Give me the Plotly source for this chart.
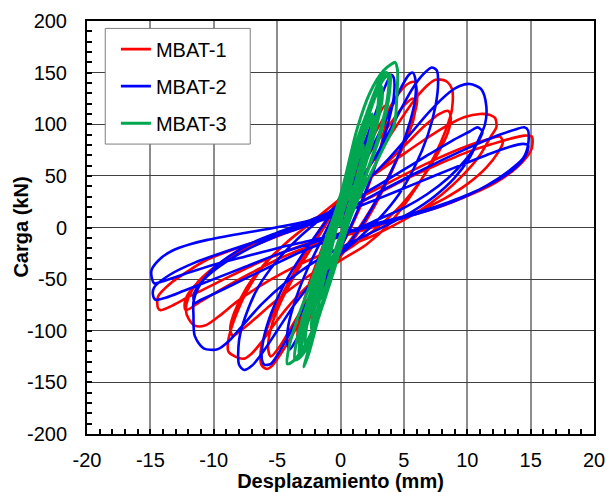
import plotly.graph_objects as go

# MBAT-1 (red): (displacement mm, load kN) traced cycle by cycle
MBAT1 = [
    (0, 0),
    (0.5, 25), (1.2, 52), (1.8, 73), (2.0, 80), (2.0, 70), (1.6, 48), (1.0, 22), (0.4, 0), (-0.3, -22), (-1.0, -46),
    (-1.7, -68), (-2.0, -75), (-2.0, -64), (-1.6, -42), (-1.0, -18), (-0.4, 5),
    (0.2, 25), (1.0, 50), (2.0, 80), (2.9, 106), (3.5, 118), (3.6, 110), (3.4, 90), (2.8, 62), (1.9, 30), (0.9, 2),
    (0.0, -20), (-0.9, -42), (-1.9, -72), (-2.8, -98), (-3.3, -112), (-3.4, -104), (-3.1, -82), (-2.5, -55), (-1.6, -25), (-0.7, 5),
    (0.0, 28), (1.0, 52), (2.2, 80), (3.5, 108), (4.6, 130), (5.3, 139), (5.8, 141), (6.0, 135), (6.0, 118), (5.5, 98),
    (4.6, 70), (3.5, 40), (2.2, 10), (1.0, -12), (0.0, -28), (-1.2, -48), (-2.5, -75), (-3.7, -102), (-4.8, -124), (-5.4, -134),
    (-5.8, -137), (-6.2, -134), (-6.3, -120), (-5.8, -98), (-4.8, -70), (-3.6, -42), (-2.3, -15), (-1.0, 10),
    (0.0, 30), (1.3, 52), (2.6, 78), (3.9, 100), (5.0, 118), (5.7, 125), (5.9, 119), (5.7, 102), (5.0, 80), (3.9, 52),
    (2.6, 22), (1.2, -5), (0.0, -25), (-1.3, -45), (-2.6, -70), (-3.9, -97), (-4.9, -117), (-5.5, -125), (-5.7, -118), (-5.5, -98),
    (-4.7, -72), (-3.5, -44), (-2.2, -18), (-0.8, 10),
    (0.3, 30), (1.6, 48), (3.0, 72), (4.5, 100), (5.8, 123), (6.8, 137), (7.5, 143), (8.3, 142), (8.8, 134), (8.8, 115),
    (8.6, 105), (7.9, 82), (6.8, 55), (5.4, 28), (3.8, 3), (2.0, -17), (0.0, -32), (-1.8, -48), (-3.5, -68), (-5.0, -90),
    (-6.3, -112), (-7.0, -122), (-7.6, -127), (-8.3, -125), (-8.85, -120), (-8.85, -109), (-8.4, -90), (-7.4, -62), (-6.0, -36),
    (-4.3, -15), (-2.4, 4), (-0.8, 20),
    (0.5, 32), (2.0, 45), (3.6, 62), (5.2, 81), (6.6, 98), (7.8, 110), (8.5, 113), (8.7, 106), (8.5, 93), (7.6, 70),
    (6.3, 45), (4.8, 22), (3.0, 1), (1.2, -16), (-0.5, -30), (-2.3, -45), (-4.0, -60), (-5.6, -76), (-7.0, -91), (-8.0, -101),
    (-8.5, -105), (-8.7, -98), (-8.4, -83), (-7.4, -58), (-5.9, -34), (-4.2, -14), (-2.4, 4), (-0.8, 20),
    (0.5, 33), (2.5, 50), (4.5, 67), (6.5, 84), (8.3, 98), (9.8, 107), (11.0, 110), (11.8, 109), (12.2, 106), (12.3, 97),
    (11.9, 89), (11.0, 70), (9.6, 50), (8.0, 32), (6.2, 16), (4.2, 2), (2.2, -10), (0.0, -20), (-2.2, -30), (-4.4, -43),
    (-6.4, -57), (-8.2, -72), (-9.6, -86), (-10.7, -95), (-11.5, -95), (-12.0, -88), (-12.2, -80), (-12.0, -68), (-11.2, -52),
    (-9.8, -37), (-8.0, -23), (-6.0, -12), (-4.0, -2), (-2.0, 9),
    (0.0, 20), (2.5, 35), (5.0, 51), (7.5, 66), (9.8, 78), (11.5, 85), (12.6, 88), (12.8, 82), (12.45, 73), (11.5, 58),
    (10.0, 42), (8.2, 28), (6.2, 16), (4.0, 6), (2.0, -2), (0.0, -9), (-2.4, -18), (-4.8, -30), (-7.2, -45), (-9.4, -60),
    (-11.2, -73), (-12.2, -80), (-12.3, -74), (-12.1, -66), (-11.0, -50), (-9.5, -35), (-7.5, -21), (-5.3, -10), (-3.0, 1), (-1.0, 11),
    (0.5, 18), (2.5, 30), (5.0, 46), (7.5, 60), (10.0, 73), (12.0, 81), (13.4, 86), (14.5, 89), (15.1, 88), (15.1, 77),
    (14.8, 70), (13.8, 57), (12.3, 44), (10.5, 33), (8.5, 23), (6.5, 15), (4.5, 8), (2.5, 2), (0.5, -4), (-2.0, -13),
    (-4.5, -24), (-7.0, -37), (-9.5, -52), (-11.8, -66), (-13.5, -77), (-14.2, -80), (-14.4, -78), (-14.4, -67), (-13.4, -54),
    (-12.0, -42), (-10.5, -31), (-7.9, -19), (-5.5, -9), (-3.0, 1), (-1.0, 10), (0.0, 15),
]

# MBAT-2 (blue)
MBAT2 = [
    (0, 0),
    (0.5, 28), (1.2, 56), (1.8, 78), (2.1, 85), (2.1, 74), (1.7, 50), (1.1, 23), (0.5, 0), (-0.3, -22), (-1.0, -46),
    (-1.7, -67), (-2.0, -75), (-2.1, -64), (-1.7, -42), (-1.1, -17), (-0.5, 6),
    (0.0, 28), (0.9, 52), (1.9, 82), (2.8, 112), (3.5, 136), (4.0, 148), (4.2, 145), (4.2, 126), (3.8, 103), (3.1, 74),
    (2.2, 42), (1.2, 12), (0.2, -15), (-0.8, -40), (-1.8, -66), (-2.8, -92), (-3.6, -111), (-4.0, -118), (-4.2, -112),
    (-4.1, -94), (-3.5, -68), (-2.6, -40), (-1.5, -12), (-0.6, 10),
    (0.3, 30), (1.4, 52), (2.6, 80), (3.8, 110), (4.8, 136), (5.4, 148), (5.7, 150), (5.9, 144), (5.9, 125), (5.5, 103),
    (4.7, 74), (3.6, 44), (2.3, 15), (1.0, -10), (-0.3, -30), (-1.6, -52), (-2.9, -78), (-4.1, -105), (-5.0, -124),
    (-5.5, -132), (-6.0, -133), (-6.2, -128), (-6.1, -110), (-5.5, -84), (-4.4, -54), (-3.0, -26), (-1.5, 0),
    (0.0, 25), (1.5, 45), (3.0, 74), (4.4, 106), (5.6, 133), (6.5, 148), (7.2, 155), (7.6, 152), (7.7, 140), (7.5, 118),
    (6.9, 90), (5.9, 60), (4.6, 32), (3.0, 8), (1.3, -12), (-0.4, -30), (-2.0, -50), (-3.6, -74), (-5.0, -100), (-6.2, -122),
    (-7.0, -134), (-7.6, -138), (-8.0, -133), (-8.0, -109), (-7.5, -86), (-6.5, -58), (-5.0, -32), (-3.3, -10), (-1.6, 8),
    (0.0, 24), (1.8, 42), (3.6, 64), (5.4, 89), (7.0, 112), (8.6, 131), (9.4, 137), (10.2, 139), (11.1, 134), (11.5, 118),
    (11.4, 100), (11.0, 88), (10.2, 68), (9.0, 48), (7.4, 30), (5.6, 15), (3.6, 2), (1.6, -10), (-0.4, -22), (-2.4, -36),
    (-4.4, -54), (-6.2, -74), (-7.8, -96), (-8.8, -110), (-9.7, -118), (-10.8, -117), (-11.5, -105), (-11.6, -85), (-11.6, -72),
    (-11.2, -58), (-10.3, -43), (-8.8, -28), (-7.0, -15), (-5.0, -5), (-2.8, 5), (-0.8, 15),
    (1.0, 27), (3.0, 41), (5.0, 56), (7.0, 71), (8.8, 84), (10.2, 93), (10.8, 97), (11.2, 93), (10.9, 84), (9.9, 66),
    (8.5, 48), (6.8, 32), (5.0, 19), (3.0, 8), (1.0, -3), (-1.0, -13), (-3.2, -24), (-5.4, -37), (-7.6, -50), (-9.6, -62),
    (-11.0, -70), (-11.5, -73), (-11.6, -67), (-11.4, -60), (-10.5, -47), (-9.0, -33), (-7.0, -19), (-5.0, -8), (-2.8, 3), (-0.8, 13),
    (1.0, 21), (3.0, 34), (6.0, 53), (9.0, 71), (11.0, 82), (12.6, 90), (13.8, 95), (14.5, 97), (14.8, 94), (14.8, 80),
    (14.4, 67), (13.2, 54), (11.6, 41), (10.0, 31), (8.0, 21), (6.0, 13), (4.0, 6), (2.0, 0), (0.0, -7), (-2.5, -16),
    (-5.0, -26), (-7.5, -38), (-10.0, -50), (-12.3, -61), (-13.8, -68), (-14.6, -70), (-14.8, -65), (-14.7, -58), (-13.5, -46),
    (-11.5, -34), (-9.0, -23), (-6.5, -13), (-4.0, -4), (-1.5, 7),
    (0.5, 16), (3.0, 28), (6.0, 43), (9.0, 58), (11.5, 70), (13.3, 78), (14.4, 81), (14.8, 80), (14.7, 72), (14.3, 64),
    (13.2, 52), (11.5, 40), (9.5, 29), (7.5, 20), (5.0, 11), (2.5, 3), (0.0, -6), (-2.5, -13), (-5.0, -20), (-7.5, -28),
    (-10.0, -36), (-12.3, -45), (-14.0, -52), (-14.7, -54), (-14.9, -48), (-14.9, -41), (-14.2, -30), (-13.2, -22), (-11.8, -16),
    (-10.5, -12), (-7.9, -6), (-5.5, -1), (-3.0, 5), (-0.5, 12),
]

# MBAT-3 (green)
MBAT3 = [
    (0, 0),
    (0.3, 20), (0.8, 35), (1.0, 40), (0.9, 32), (0.5, 15), (0.2, 0), (-0.3, -18), (-0.8, -35), (-1.0, -40), (-0.9, -32),
    (-0.6, -15), (-0.3, 0),
    (0.2, 15), (0.9, 45), (1.5, 70), (1.8, 80), (1.7, 68), (1.2, 45), (0.5, 10), (0.1, -8), (-0.6, -35), (-1.3, -62),
    (-1.6, -70), (-1.5, -58), (-1.0, -30), (-0.5, -5),
    (0.1, 18), (1.0, 55), (1.8, 88), (2.3, 105), (2.5, 110), (2.4, 95), (1.8, 65), (1.0, 28), (0.3, -3), (-0.5, -35),
    (-1.3, -68), (-1.9, -88), (-2.2, -95), (-2.1, -82), (-1.5, -50), (-0.8, -15),
    (0.0, 15), (0.9, 50), (1.7, 82), (2.3, 102), (2.6, 108), (2.5, 92), (1.9, 62), (1.1, 25), (0.4, -5), (-0.5, -40),
    (-1.4, -75), (-2.0, -92), (-2.3, -98), (-2.2, -84), (-1.6, -52), (-0.9, -18),
    (0.0, 20), (1.0, 60), (2.0, 100), (2.7, 125), (3.0, 132), (2.9, 112), (2.2, 78), (1.3, 38), (0.5, 0), (-0.4, -35),
    (-1.4, -75), (-2.3, -102), (-2.8, -115), (-2.7, -98), (-2.0, -62), (-1.0, -20),
    (0.0, 22), (1.2, 70), (2.3, 115), (2.9, 135), (3.1, 140), (3.2, 130), (2.6, 92), (1.6, 48), (0.6, 5), (-0.5, -38),
    (-1.6, -82), (-2.5, -110), (-3.1, -124), (-3.0, -105), (-2.3, -68), (-1.2, -25),
    (-0.1, 18), (1.1, 64), (2.1, 105), (2.8, 128), (3.2, 137), (3.3, 126), (2.8, 96), (1.9, 58), (1.0, 22), (0.2, -8),
    (-0.8, -50), (-1.8, -90), (-2.7, -118), (-3.2, -125), (-3.2, -108), (-2.5, -72), (-1.5, -32), (-0.6, 2),
    (-0.2, 18), (1.0, 68), (2.2, 115), (3.2, 145), (3.65, 150), (3.8, 145), (3.7, 125), (3.1, 92), (2.2, 58), (1.2, 25),
    (0.4, 0), (-0.6, -40), (-1.7, -85), (-2.6, -115), (-3.3, -127), (-3.6, -128), (-3.5, -112), (-2.8, -80), (-1.9, -45), (-0.9, -5),
    (0.2, 40), (1.3, 95), (2.3, 130), (3.4, 152), (4.0, 158), (4.3, 160), (4.5, 152), (4.45, 128), (4.25, 100), (3.3, 75),
    (2.3, 50), (1.3, 25), (0.5, 0), (-0.6, -45), (-1.8, -88), (-3.0, -118), (-3.8, -130), (-4.2, -132), (-4.1, -118),
    (-3.5, -92), (-2.6, -62), (-1.8, -35), (-0.9, -2),
    (0.2, 35), (1.4, 88), (2.6, 125), (3.5, 145), (3.9, 148), (3.8, 125), (3.1, 88), (2.0, 50), (0.9, 15), (0.0, -15),
    (-0.9, -50), (-1.9, -95), (-2.5, -122), (-2.9, -135), (-2.6, -122), (-2.0, -90), (-1.3, -50), (-0.6, -10), (0.0, 10),
]

SERIES_NAMES = ["MBAT-1", "MBAT-2", "MBAT-3"]
SERIES_COLORS = ["#FF0000", "#0000FF", "#00A650"]
SERIES_WIDTHS = [2.6, 2.6, 3.0]
X_TICKS = [-20, -15, -10, -5, 0, 5, 10, 15, 20]
Y_TICKS = [-200, -150, -100, -50, 0, 50, 100, 150, 200]
X_TITLE = "Desplazamiento (mm)"
Y_TITLE = "Carga (kN)"

FONT = "Arial, Liberation Sans, sans-serif"

fig = go.Figure()
for name, color, width, pts in zip(SERIES_NAMES, SERIES_COLORS, SERIES_WIDTHS, [MBAT1, MBAT2, MBAT3]):
    xs = [p[0] for p in pts]
    ys = [p[1] for p in pts]
    fig.add_trace(go.Scatter(
        x=xs, y=ys, mode="lines", name=name, legendgroup=name,
        line=dict(color=color, width=width, shape="spline", smoothing=0.8),
    ))

axis_common = dict(
    showline=True, linecolor="black", linewidth=2, mirror=True,
    ticks="inside", ticklen=5, tickcolor="black", tickwidth=1.5,
    tickfont=dict(family=FONT, size=20, color="black"),
    zeroline=False, automargin=False,
)

fig.update_xaxes(
    range=[-20, 20], tickvals=X_TICKS, ticktext=[str(v) for v in X_TICKS],
    showgrid=True, gridcolor="#8c8c8c", gridwidth=1.5,
    minor=dict(dtick=1, ticks="inside", ticklen=5, tickcolor="black", showgrid=False),
    title=dict(text=X_TITLE, font=dict(family=FONT, size=20, color="black", weight="bold"), standoff=7),
    ticklabelstandoff=7,
    **axis_common,
)
fig.update_yaxes(
    range=[-200, 200], tickvals=Y_TICKS, ticktext=[str(v) for v in Y_TICKS],
    showgrid=True, gridcolor="#404040", gridwidth=1,
    minor=dict(dtick=10, ticks="inside", ticklen=5, tickcolor="black", showgrid=False),
    ticklabelstandoff=14,
    **axis_common,
)

fig.update_layout(
    width=606, height=492,
    margin=dict(l=87, r=12, t=21, b=58),
    paper_bgcolor="white", plot_bgcolor="white",
    showlegend=True,
    annotations=[dict(
        text=Y_TITLE, xref="paper", yref="paper", x=-0.132, y=0.5,
        xanchor="center", yanchor="middle", textangle=-90, showarrow=False,
        font=dict(family=FONT, size=20, color="black", weight="bold"),
    )],
    shapes=[dict(
        type="rect", xref="paper", yref="paper",
        x0=0.036, x1=0.322, y0=0.702, y1=0.982,
        line=dict(color="#7f7f7f", width=1), fillcolor="white", layer="above",
    )],
    legend=dict(
        x=0.057, y=0.979, xanchor="left", yanchor="top",
        bgcolor="rgba(0,0,0,0)", borderwidth=0,
        font=dict(family=FONT, size=20, color="black"),
        tracegroupgap=8, itemwidth=30,
    ),
)

fig.write_html(
    "out.html",
    config={"displayModeBar": False},
    post_script="document.body.style.margin='0px'; document.body.style.padding='0px';",
)
